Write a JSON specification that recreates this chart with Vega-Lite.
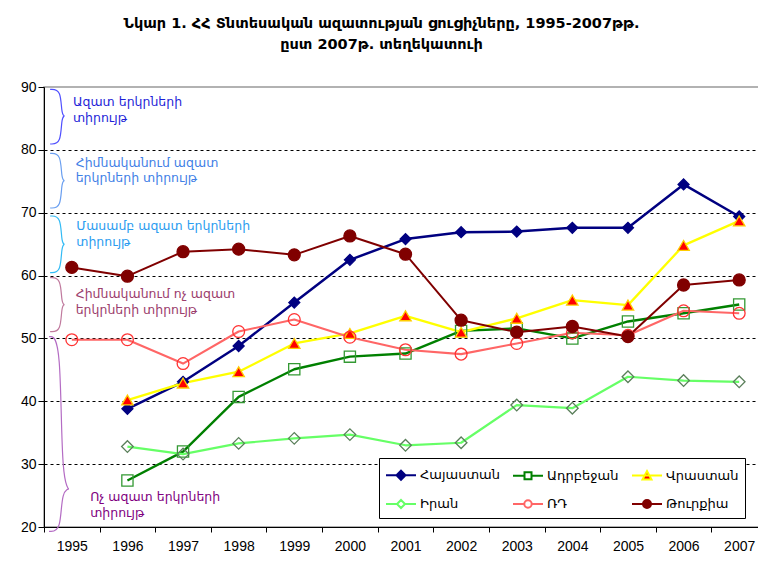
{
  "$schema": "https://vega.github.io/schema/vega-lite/v6.json",
  "width": 723,
  "height": 440,
  "autosize": "none",
  "padding": {"left": 44, "top": 87, "right": 0, "bottom": 37},
  "background": "#ffffff",
  "title": {
    "text": ["Նկար 1. ՀՀ Տնտեսական ազատության ցուցիչները, 1995-2007թթ.", "ըստ 2007թ. տեղեկատուի"],
    "font": "DejaVu Sans",
    "fontSize": 14.5,
    "fontWeight": "bold",
    "lineHeight": 21,
    "anchor": "middle",
    "dx": -24,
    "offset": 28,
    "color": "#000000"
  },
  "config": {
    "view": {"stroke": "#999999", "strokeWidth": 1.5},
    "axis": {"labelFont": "Liberation Sans", "labelFontSize": 14, "labelColor": "#000000", "domainColor": "#000000", "tickColor": "#000000", "title": null}
  },
  "datasets": {
    "main": [
      {"country": "Հայաստան", "year": "1996", "value": 38.8},
      {"country": "Հայաստան", "year": "1997", "value": 43.1},
      {"country": "Հայաստան", "year": "1998", "value": 48.8},
      {"country": "Հայաստան", "year": "1999", "value": 55.7},
      {"country": "Հայաստան", "year": "2000", "value": 62.5},
      {"country": "Հայաստան", "year": "2001", "value": 65.8},
      {"country": "Հայաստան", "year": "2002", "value": 66.9},
      {"country": "Հայաստան", "year": "2003", "value": 67.0},
      {"country": "Հայաստան", "year": "2004", "value": 67.6},
      {"country": "Հայաստան", "year": "2005", "value": 67.6},
      {"country": "Հայաստան", "year": "2006", "value": 74.5},
      {"country": "Հայաստան", "year": "2007", "value": 69.4},
      {"country": "Ադրբեջան", "year": "1996", "value": 27.4},
      {"country": "Ադրբեջան", "year": "1997", "value": 32.0},
      {"country": "Ադրբեջան", "year": "1998", "value": 40.7},
      {"country": "Ադրբեջան", "year": "1999", "value": 45.1},
      {"country": "Ադրբեջան", "year": "2000", "value": 47.1},
      {"country": "Ադրբեջան", "year": "2001", "value": 47.6},
      {"country": "Ադրբեջան", "year": "2002", "value": 51.2},
      {"country": "Ադրբեջան", "year": "2003", "value": 51.6},
      {"country": "Ադրբեջան", "year": "2004", "value": 50.0},
      {"country": "Ադրբեջան", "year": "2005", "value": 52.7},
      {"country": "Ադրբեջան", "year": "2006", "value": 54.0},
      {"country": "Ադրբեջան", "year": "2007", "value": 55.4},
      {"country": "Վրաստան", "year": "1996", "value": 40.2},
      {"country": "Վրաստան", "year": "1997", "value": 42.9},
      {"country": "Վրաստան", "year": "1998", "value": 44.7},
      {"country": "Վրաստան", "year": "1999", "value": 49.2},
      {"country": "Վրաստան", "year": "2000", "value": 50.8},
      {"country": "Վրաստան", "year": "2001", "value": 53.6},
      {"country": "Վրաստան", "year": "2002", "value": 51.0},
      {"country": "Վրաստան", "year": "2003", "value": 53.2},
      {"country": "Վրաստան", "year": "2004", "value": 56.1},
      {"country": "Վրաստան", "year": "2005", "value": 55.3},
      {"country": "Վրաստան", "year": "2006", "value": 64.8},
      {"country": "Վրաստան", "year": "2007", "value": 68.7},
      {"country": "Իրան", "year": "1996", "value": 32.8},
      {"country": "Իրան", "year": "1997", "value": 31.6},
      {"country": "Իրան", "year": "1998", "value": 33.3},
      {"country": "Իրան", "year": "1999", "value": 34.1},
      {"country": "Իրան", "year": "2000", "value": 34.7},
      {"country": "Իրան", "year": "2001", "value": 33.0},
      {"country": "Իրան", "year": "2002", "value": 33.4},
      {"country": "Իրան", "year": "2003", "value": 39.4},
      {"country": "Իրան", "year": "2004", "value": 38.9},
      {"country": "Իրան", "year": "2005", "value": 43.9},
      {"country": "Իրան", "year": "2006", "value": 43.3},
      {"country": "Իրան", "year": "2007", "value": 43.1},
      {"country": "ՌԴ", "year": "1995", "value": 49.8},
      {"country": "ՌԴ", "year": "1996", "value": 49.8},
      {"country": "ՌԴ", "year": "1997", "value": 46.0},
      {"country": "ՌԴ", "year": "1998", "value": 51.1},
      {"country": "ՌԴ", "year": "1999", "value": 53.0},
      {"country": "ՌԴ", "year": "2000", "value": 50.2},
      {"country": "ՌԴ", "year": "2001", "value": 48.2},
      {"country": "ՌԴ", "year": "2002", "value": 47.5},
      {"country": "ՌԴ", "year": "2003", "value": 49.2},
      {"country": "ՌԴ", "year": "2004", "value": 50.9},
      {"country": "ՌԴ", "year": "2005", "value": 50.5},
      {"country": "ՌԴ", "year": "2006", "value": 54.4},
      {"country": "ՌԴ", "year": "2007", "value": 54.0},
      {"country": "Թուրքիա", "year": "1995", "value": 61.3},
      {"country": "Թուրքիա", "year": "1996", "value": 59.9},
      {"country": "Թուրքիա", "year": "1997", "value": 63.8},
      {"country": "Թուրքիա", "year": "1998", "value": 64.2},
      {"country": "Թուրքիա", "year": "1999", "value": 63.3},
      {"country": "Թուրքիա", "year": "2000", "value": 66.3},
      {"country": "Թուրքիա", "year": "2001", "value": 63.4},
      {"country": "Թուրքիա", "year": "2002", "value": 52.9},
      {"country": "Թուրքիա", "year": "2003", "value": 51.0},
      {"country": "Թուրքիա", "year": "2004", "value": 51.9},
      {"country": "Թուրքիա", "year": "2005", "value": 50.3},
      {"country": "Թուրքիա", "year": "2006", "value": 58.5},
      {"country": "Թուրքիա", "year": "2007", "value": 59.3}
    ],
    "braces": [
      {"region": "r1", "i": 1, "bx": 1994.61, "by": 89.63},
      {"region": "r1", "i": 2, "bx": 1994.81, "by": 89.63},
      {"region": "r1", "i": 3, "bx": 1994.81, "by": 85.4},
      {"region": "r1", "i": 4, "bx": 1994.9, "by": 85.4},
      {"region": "r1", "i": 5, "bx": 1994.81, "by": 85.4},
      {"region": "r1", "i": 6, "bx": 1994.81, "by": 80.93},
      {"region": "r1", "i": 7, "bx": 1994.61, "by": 80.93},
      {"region": "r2", "i": 1, "bx": 1994.61, "by": 79.45},
      {"region": "r2", "i": 2, "bx": 1994.81, "by": 79.45},
      {"region": "r2", "i": 3, "bx": 1994.81, "by": 75.1},
      {"region": "r2", "i": 4, "bx": 1994.9, "by": 75.1},
      {"region": "r2", "i": 5, "bx": 1994.81, "by": 75.1},
      {"region": "r2", "i": 6, "bx": 1994.81, "by": 70.75},
      {"region": "r2", "i": 7, "bx": 1994.61, "by": 70.75},
      {"region": "r3", "i": 1, "bx": 1994.61, "by": 69.48},
      {"region": "r3", "i": 2, "bx": 1994.81, "by": 69.48},
      {"region": "r3", "i": 3, "bx": 1994.81, "by": 64.97},
      {"region": "r3", "i": 4, "bx": 1994.9, "by": 64.97},
      {"region": "r3", "i": 5, "bx": 1994.81, "by": 64.97},
      {"region": "r3", "i": 6, "bx": 1994.81, "by": 60.46},
      {"region": "r3", "i": 7, "bx": 1994.61, "by": 60.46},
      {"region": "r4", "i": 1, "bx": 1994.61, "by": 59.66},
      {"region": "r4", "i": 2, "bx": 1994.81, "by": 59.66},
      {"region": "r4", "i": 3, "bx": 1994.81, "by": 55.37},
      {"region": "r4", "i": 4, "bx": 1994.9, "by": 55.37},
      {"region": "r4", "i": 5, "bx": 1994.81, "by": 55.37},
      {"region": "r4", "i": 6, "bx": 1994.81, "by": 51.07},
      {"region": "r4", "i": 7, "bx": 1994.61, "by": 51.07},
      {"region": "r5", "i": 1, "bx": 1994.59, "by": 50.28},
      {"region": "r5", "i": 2, "bx": 1994.81, "by": 50.28},
      {"region": "r5", "i": 3, "bx": 1994.81, "by": 26.05},
      {"region": "r5", "i": 4, "bx": 1995.02, "by": 26.05},
      {"region": "r5", "i": 5, "bx": 1994.81, "by": 26.05},
      {"region": "r5", "i": 6, "bx": 1994.81, "by": 19.3},
      {"region": "r5", "i": 7, "bx": 1994.59, "by": 19.3}
    ],
    "notes": [
      {"region": "r1", "t": "Ազատ երկրների", "lx": 1995.02, "ly": 87.66},
      {"region": "r1", "t": "տիրույթ", "lx": 1995.02, "ly": 85.02},
      {"region": "r2", "t": "Հիմնականում ազատ", "lx": 1995.07, "ly": 77.86},
      {"region": "r2", "t": "երկրների տիրույթ", "lx": 1995.07, "ly": 75.48},
      {"region": "r3", "t": "Մասամբ ազատ երկրների", "lx": 1995.08, "ly": 67.93},
      {"region": "r3", "t": "տիրույթ", "lx": 1995.08, "ly": 65.39},
      {"region": "r4", "t": "Հիմնականում ոչ ազատ", "lx": 1995.07, "ly": 57.07},
      {"region": "r4", "t": "երկրների տիրույթ", "lx": 1995.07, "ly": 54.52},
      {"region": "r5", "t": "Ոչ ազատ երկրների", "lx": 1995.33, "ly": 24.82},
      {"region": "r5", "t": "տիրույթ", "lx": 1995.33, "ly": 22.28}
    ]
  },
  "layer": [
    {
      "data": {"name": "main"},
      "encoding": {
        "x": {
          "field": "year", "type": "ordinal", "bandPosition": 0.5,
          "scale": {"type": "band", "domain": ["1995","1996","1997","1998","1999","2000","2001","2002","2003","2004","2005","2006","2007"], "paddingInner": 0, "paddingOuter": 0},
          "axis": {"labelAngle": 0, "tickBand": "extent", "tickSize": 5, "labelPadding": 7, "grid": false}
        },
        "y": {
          "field": "value", "type": "quantitative",
          "scale": {"domain": [20, 90], "nice": false, "zero": false},
          "axis": {"values": [20,30,40,50,60,70,80,90], "tickSize": 6, "labelPadding": 2, "grid": true, "gridColor": "#000000", "gridDash": [3,3], "gridWidth": 1, "gridOpacity": {"condition": {"test": "datum.value == 20 || datum.value == 90", "value": 0}, "value": 1}}
        }
      },
      "layer": [
        {
          "mark": {"type": "line", "strokeJoin": "round"},
          "encoding": {
            "stroke": {
              "field": "country", "type": "nominal",
              "scale": {"domain": ["Հայաստան","Ադրբեջան","Վրաստան","Իրան","ՌԴ","Թուրքիա"], "range": ["#000080","#008000","#ffff00","#66ff66","#ff6666","#800000"]},
              "legend": {
                "title": null, "orient": "none", "legendX": 335, "legendY": 371,
                "direction": "horizontal", "columns": 3,
                "strokeColor": "#000000", "fillColor": "#ffffff",
                "padding": 6, "rowPadding": 9, "columnPadding": 9,
                "symbolSize": 400, "symbolStrokeWidth": 2,
                "labelFont": "DejaVu Sans", "labelFontSize": 13, "labelColor": "#000000", "labelOffset": 13,
                "encode": {
                  "symbols": {
                    "update": {
                      "shape": {"signal": "datum.value === 'Հայաստան' ? 'M-1,0H2M0.5,-0.45L0.95,0L0.5,0.45L0.05,0Z' : datum.value === 'Ադրբեջան' ? 'M-1,0H0.15M0.85,0H2M0.15,-0.35H0.85V0.35H0.15Z' : datum.value === 'Վրաստան' ? 'M-1,0H2M0.05,0.38L0.95,0.38L0.5,-0.45Z' : datum.value === 'Իրան' ? 'M-1,0H0.1M0.9,0H2M0.5,-0.4L0.9,0L0.5,0.4L0.1,0Z' : datum.value === 'ՌԴ' ? 'M-1,0H0.13M0.87,0H2M0.87,0A0.37,0.37 0 1,1 0.13,0A0.37,0.37 0 1,1 0.87,0Z' : 'M-1,0H2M0.9,0A0.4,0.4 0 1,1 0.1,0A0.4,0.4 0 1,1 0.9,0Z'"},
                      "fill": {"signal": "datum.value === 'Հայաստան' ? '#000080' : datum.value === 'Վրաստան' ? '#ff0000' : datum.value === 'Թուրքիա' ? '#800000' : '#ffffff'"},
                      "fillOpacity": {"value": 1},
                      "strokeOpacity": {"value": 1}
                    }
                  }
                }
              }
            },
            "strokeWidth": {
              "field": "country", "type": "nominal",
              "scale": {"domain": ["Հայաստան","Ադրբեջան","Վրաստան","Իրան","ՌԴ","Թուրքիա"], "range": [2.5, 2, 2.5, 1.3, 1.3, 2.5]},
              "legend": null
            }
          }
        },
        {
          "mark": {"type": "point", "filled": true, "opacity": 1, "strokeWidth": 1.3},
          "encoding": {
            "shape": {
              "field": "country", "type": "nominal",
              "scale": {"domain": ["Հայաստան","Ադրբեջան","Վրաստան","Իրան","ՌԴ","Թուրքիա"], "range": ["diamond","square","triangle-up","diamond","circle","circle"]},
              "legend": null
            },
            "fill": {
              "field": "country", "type": "nominal",
              "scale": {"domain": ["Հայաստան","Ադրբեջան","Վրաստան","Իրան","ՌԴ","Թուրքիա"], "range": ["#000080","transparent","#ff0000","transparent","transparent","#800000"]},
              "legend": null
            },
            "stroke": {
              "field": "country", "type": "nominal",
              "scale": {"domain": ["Հայաստան","Ադրբեջան","Վրաստան","Իրան","ՌԴ","Թուրքիա"], "range": ["#000080","#339933","#ffcc00","#5a7f5a","#ff3333","#800000"]},
              "legend": null
            },
            "size": {
              "field": "country", "type": "nominal",
              "scale": {"domain": ["Հայաստան","Ադրբեջան","Վրաստան","Իրան","ՌԴ","Թուրքիա"], "range": [121, 144, 150, 121, 130, 150]},
              "legend": null
            }
          }
        }
      ],
      "resolve": {"scale": {"stroke": "independent"}}
    },
    {
      "layer": [
        {
          "data": {"name": "braces"},
          "mark": {"type": "line", "interpolate": "basis", "strokeWidth": 1.2},
          "encoding": {
            "x": {"field": "bx", "type": "quantitative", "scale": {"domain": [1994.5, 2007.5], "nice": false, "zero": false}, "axis": null},
            "y": {"field": "by", "type": "quantitative", "scale": {"domain": [20, 90], "nice": false, "zero": false}},
            "order": {"field": "i", "type": "quantitative"},
            "detail": {"field": "region"},
            "stroke": {
              "field": "region", "type": "nominal",
              "scale": {"domain": ["r1","r2","r3","r4","r5"], "range": ["#5050ff","#6a9ff0","#33bbf5","#c07a9e","#b46cc4"]},
              "legend": null
            }
          }
        },
        {
          "data": {"name": "notes"},
          "mark": {"type": "text", "align": "left", "baseline": "middle", "font": "DejaVu Sans", "fontSize": 12.5},
          "encoding": {
            "x": {"field": "lx", "type": "quantitative", "scale": {"domain": [1994.5, 2007.5], "nice": false, "zero": false}, "axis": null},
            "y": {"field": "ly", "type": "quantitative", "scale": {"domain": [20, 90], "nice": false, "zero": false}},
            "text": {"field": "t"},
            "fill": {
              "field": "region", "type": "nominal",
              "scale": {"domain": ["r1","r2","r3","r4","r5"], "range": ["#1f1fd8","#3f80e6","#2a9cf0","#9b3d6c","#800080"]},
              "legend": null
            },
            "fontWeight": {"condition": {"test": "datum.region === 'r1'", "value": "bold"}, "value": "normal"}
          }
        }
      ],
      "resolve": {"scale": {"stroke": "independent", "fill": "independent"}}
    }
  ],
  "resolve": {"scale": {"x": "independent", "stroke": "independent", "fill": "independent"}}
}
